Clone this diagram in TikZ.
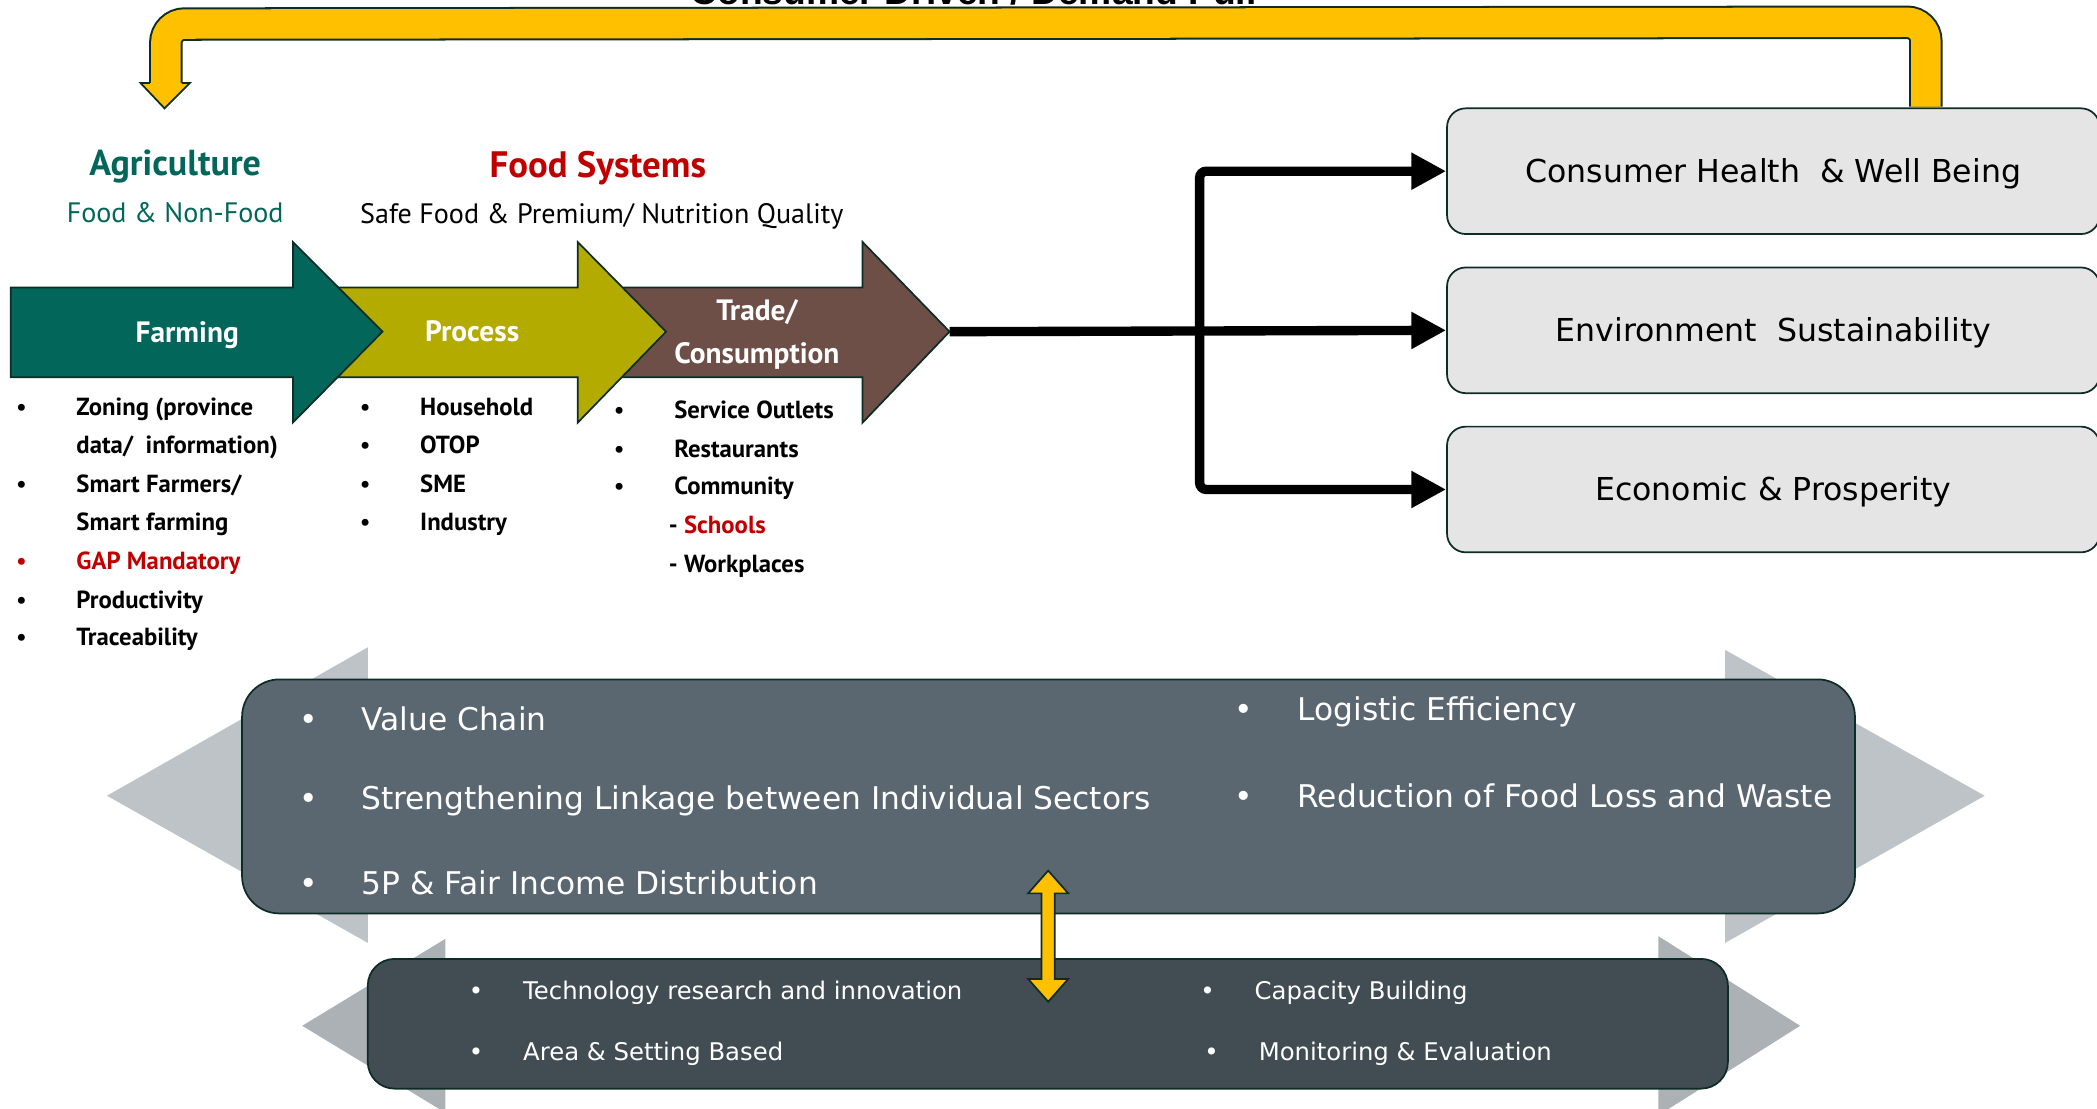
\documentclass[tikz,border=0pt]{standalone}
\usepackage{fontspec}
\usepackage{xcolor}
\usetikzlibrary{arrows.meta,calc}
\setmainfont{PT Sans}
\newfontfamily\boxfont{DejaVu Sans}
\newfontfamily\titlefont{Liberation Sans}
\definecolor{farmteal}{RGB}{3,102,91}
\definecolor{procolive}{RGB}{179,171,0}
\definecolor{tradebrown}{RGB}{110,79,71}
\definecolor{pullyellow}{RGB}{255,192,0}
\definecolor{edgedark}{RGB}{14,44,38}
\definecolor{goalgray}{RGB}{229,229,229}
\definecolor{hubslate}{RGB}{91,103,112}
\definecolor{baseslate}{RGB}{65,76,83}
\definecolor{wingray}{RGB}{190,195,199}
\definecolor{wingdark}{RGB}{172,177,181}
\definecolor{alertred}{RGB}{192,0,0}

\begin{document}
\begin{tikzpicture}[x=1pt,y=-1pt,
        edge/.style={draw=edgedark, line width=1.3pt},
        stage/.style={anchor=base, text=white, inner sep=0pt, font=\fontsize{22}{24}\selectfont\bfseries},
        listitem/.style={anchor=base west, inner sep=0pt, font=\fontsize{18.5}{22}\selectfont\bfseries},
        listdot/.style={anchor=base, inner sep=0pt, font=\fontsize{18.5}{22}\selectfont},
        goal/.style={edge, fill=goalgray, rounded corners=14pt, minimum width=488pt, minimum height=94pt, text height=17pt, text depth=0pt, font=\boxfont\fontsize{23.6}{28}\selectfont},
        flow/.style={line width=7pt, -{Triangle[length=26pt,width=26pt]}},
        hubtext/.style={anchor=base west, inner sep=0pt, text=white, font=\boxfont\fontsize{23.4}{28}\selectfont},
        basetext/.style={anchor=base west, inner sep=0pt, text=white, font=\boxfont\fontsize{18.2}{22}\selectfont}]
\useasboundingbox (0,0) rectangle (1568,829);

\node[anchor=base, inner sep=0pt, font=\titlefont\fontsize{27.8}{30}\selectfont\bfseries] (pulltitle) at (728,3) {Consumer Driven / Demand Pull};

\node[goal] (health) at (1326,128) {Consumer Health\ \ \& Well Being};
\node[goal] (env) at (1326,247) {Environment\ \ Sustainability};
\node[goal] (econ) at (1326,366) {Economic \& Prosperity};

\coordinate (pullbase) at ([xshift=114pt,yshift=0.7pt]health.north);
\coordinate (pullend) at (124,62);
\draw[line width=25pt, edgedark, rounded corners=14pt] (pullbase) -- ++(0,-63) -- (124,18) -- (pullend);
\draw[line width=22pt, pullyellow, rounded corners=14pt] (pullbase) -- ++(0,-63) -- (124,18) -- (pullend);
\filldraw[fill=pullyellow, edge] (112,62) -- (105,62) -- (123,81) -- (142,62) -- (136,62);

\node[anchor=base, text=farmteal, font=\fontsize{27}{30}\selectfont\bfseries] (agri) at (131,131) {Agriculture};
\node[anchor=base, text=farmteal, font=\fontsize{21}{24}\selectfont] (agrisub) at (131,166) {Food \& Non-Food};
\node[anchor=base, text=alertred, font=\fontsize{27.5}{30}\selectfont\bfseries] (foodsys) at (447,133) {Food Systems};
\node[anchor=base, font=\fontsize{21}{24}\selectfont] (foodsub) at (450,167) {Safe Food \& Premium/ Nutrition Quality};

\filldraw[fill=tradebrown, edge] (450,215) -- (645,215) -- (645,181) -- (710,248) -- (645,316) -- (645,282) -- (450,282) -- cycle;
\filldraw[fill=procolive, edge] (245,215) -- (432,215) -- (432,181) -- (498,248) -- (432,316) -- (432,282) -- (245,282) -- cycle;
\filldraw[fill=farmteal, edge] (8,215) -- (219,215) -- (219,181) -- (286,248) -- (219,316) -- (219,282) -- (8,282) -- cycle;
\coordinate (tradetip) at (710,248);
\node[stage] (farming) at (140,256) {Farming};
\node[stage] (process) at (353,255) {Process};
\node[stage] (trade) at (566,240) {Trade/};
\node[stage] (consume) at (566,272) {Consumption};

\foreach \txt/\base [count=\i] in {{Zoning (province}/311, {Smart Farmers/}/368, {Productivity}/455, {Traceability}/483} {
    \node[listdot] (farmdot\i) at (16,\base) {\textbullet};
    \node[listitem] (farmitem\i) at (57,\base) {\txt};
}
\node[listitem] (farmwrap1) at (57,339) {data/\ \ information)};
\node[listitem] (farmwrap2) at (57,397) {Smart farming};
\node[listdot, text=alertred] (gapdot) at (16,426) {\textbullet};
\node[listitem, text=alertred] (gap) at (57,426) {GAP Mandatory};

\foreach \txt/\base [count=\i] in {Household/311, OTOP/339, SME/368, Industry/397} {
    \node[listdot] (procdot\i) at (273,\base) {\textbullet};
    \node[listitem] (procitem\i) at (314,\base) {\txt};
}

\foreach \txt/\base [count=\i] in {Service Outlets/313, Restaurants/342, Community/370} {
    \node[listdot] (tradedot\i) at (463,\base) {\textbullet};
    \node[listitem] (tradeitem\i) at (504,\base) {\txt};
}
\node[listitem] (schools) at (500,399) {- \textcolor{alertred}{Schools}};
\node[listitem] (work) at (500,428) {- Workplaces};

\coordinate (split) at (897,248);
\draw[flow] (tradetip) -- (env.west);
\draw[flow, rounded corners=5pt] (split) |- (health.west);
\draw[flow, rounded corners=5pt] (split) |- (econ.west);

\fill[wingray] (80,595) -- (275,484) -- (275,540) -- (1290,540) -- (1290,486) -- (1484,595) -- (1290,705) -- (1290,650) -- (275,650) -- (275,705) -- cycle;
\node[edge, fill=hubslate, rounded corners=28pt, minimum width=1206pt, minimum height=175pt] (hub) at (784,595.5) {};
\fill[wingdark] (226,767) -- (333,702) -- (333,740) -- (1240,740) -- (1240,700) -- (1346,767) -- (1240,834) -- (1240,790) -- (333,790) -- (333,832) -- cycle;
\node[edge, fill=baseslate, rounded corners=20pt, minimum width=1017pt, minimum height=97pt] (base) at (783.5,765.5) {};

\foreach \txt/\base [count=\i] in {Value Chain/546, Strengthening Linkage between Individual Sectors/605, 5P \& Fair Income Distribution/669} {
    \node[hubtext, anchor=base] (hubdot\i) at (231,\base) {\textbullet};
    \node[hubtext] (hubitem\i) at (270,\base) {\txt};
}
\foreach \txt/\base [count=\i] in {Logistic Efficiency/539, Reduction of Food Loss and Waste/604} {
    \node[hubtext, anchor=base] (hubrdot\i) at (930,\base) {\textbullet};
    \node[hubtext] (hubritem\i) at (970,\base) {\txt};
}
\node[basetext, anchor=base] (basedot1) at (356,747) {\textbullet};
\node[basetext] (tech) at (391,747) {Technology research and innovation};
\node[basetext, anchor=base] (basedot2) at (356,793) {\textbullet};
\node[basetext] (area) at (391,793) {Area \& Setting Based};
\node[basetext, anchor=base] (basedot3) at (903,747) {\textbullet};
\node[basetext] (capacity) at (938,747) {Capacity Building};
\node[basetext, anchor=base] (basedot4) at (906,793) {\textbullet};
\node[basetext] (monitor) at (941,793) {Monitoring \& Evaluation};

\coordinate (link) at ($(hub.south)!0.5!(base.north)$);
\filldraw[fill=pullyellow, edge, shift={(link)}] (-5,-32) -- (-15,-32) -- (0,-49) -- (15,-32) -- (5,-32) -- (5,32) -- (15,32) -- (0,49) -- (-15,32) -- (-5,32) -- cycle;
\end{tikzpicture}
\end{document}
